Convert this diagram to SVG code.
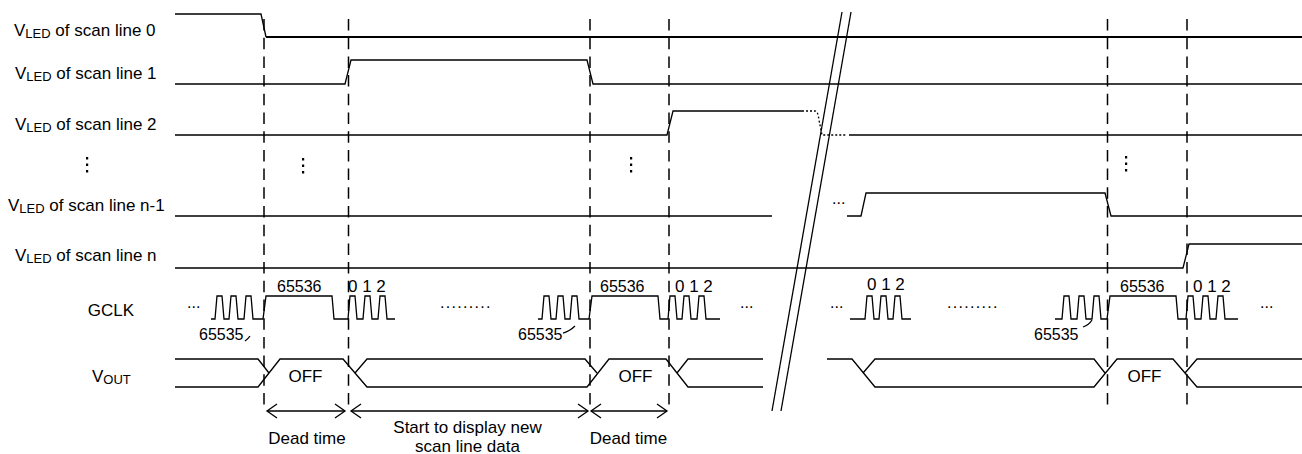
<svg xmlns="http://www.w3.org/2000/svg" width="1302" height="454" viewBox="0 0 1302 454">
<style>
text{font-family:"Liberation Sans",Arial,sans-serif;fill:#000}
.lbl{font-size:17px}
.sub{font-size:13px}
.num{font-size:16px}
.w{fill:none;stroke:#000;stroke-width:1.3;stroke-linejoin:miter}
.thick{fill:none;stroke:#000;stroke-width:2.2}
.dash{fill:none;stroke:#000;stroke-width:1.5;stroke-dasharray:11.5 7.2}
.dot{fill:none;stroke:#000;stroke-width:1.3;stroke-dasharray:2 2}
.arr{fill:none;stroke:#000;stroke-width:1.3;marker-start:url(#ah);marker-end:url(#ah)}
</style>
<defs>
<marker id="ah" markerUnits="userSpaceOnUse" markerWidth="20" markerHeight="20" refX="0" refY="0" orient="auto-start-reverse" overflow="visible">
<path d="M-10,-7 L0,0 L-10,7" fill="none" stroke="#000" stroke-width="1.3"/>
</marker>
</defs>
<rect width="1302" height="454" fill="#fff"/>

<g id="labels">
<text class="lbl" x="14" y="36">V<tspan class="sub" dy="2">LED</tspan><tspan dy="-2"> of scan line 0</tspan></text>
<text class="lbl" x="15" y="79">V<tspan class="sub" dy="2">LED</tspan><tspan dy="-2"> of scan line 1</tspan></text>
<text class="lbl" x="15" y="130">V<tspan class="sub" dy="2">LED</tspan><tspan dy="-2"> of scan line 2</tspan></text>
<text class="lbl" x="8" y="211">V<tspan class="sub" dy="2">LED</tspan><tspan dy="-2"> of scan line n-1</tspan></text>
<text class="lbl" x="15" y="261">V<tspan class="sub" dy="2">LED</tspan><tspan dy="-2"> of scan line n</tspan></text>
<text class="lbl" x="111" y="316" text-anchor="middle">GCLK</text>
<text class="lbl" x="92" y="382">V<tspan class="sub" dy="2">OUT</tspan></text>
</g>

<g id="vdots" fill="#000">
<rect x="86" y="157" width="2.2" height="2.5"/><rect x="86" y="163.5" width="2.2" height="2.5"/><rect x="86" y="170" width="2.2" height="2.5"/>
<rect x="302" y="158" width="2.2" height="2.5"/><rect x="302" y="164.5" width="2.2" height="2.5"/><rect x="302" y="171" width="2.2" height="2.5"/>
<rect x="630" y="157" width="2.2" height="2.5"/><rect x="630" y="163.5" width="2.2" height="2.5"/><rect x="630" y="170" width="2.2" height="2.5"/>
<rect x="1125" y="156" width="2.2" height="2.5"/><rect x="1125" y="162.5" width="2.2" height="2.5"/><rect x="1125" y="169" width="2.2" height="2.5"/>
</g>

<g id="dashed-markers">
<line class="dash" x1="264" y1="19" x2="264" y2="408"/>
<line class="dash" x1="348.5" y1="19" x2="348.5" y2="408"/>
<line class="dash" x1="590" y1="19" x2="590" y2="408"/>
<line class="dash" x1="669" y1="19" x2="669" y2="408"/>
<line class="dash" x1="1107.5" y1="19" x2="1107.5" y2="405"/>
<line class="dash" x1="1187" y1="19" x2="1187" y2="405"/>
</g>

<g id="scan0">
<path class="w" d="M175,14 H261 L266,37"/>
<path class="thick" d="M266,37 H1302"/>
</g>
<g id="scan1">
<path class="w" d="M175,84 H345 L351,60 H587 L593,84 H1302"/>
</g>
<g id="scan2">
<path class="w" d="M175,135 H667 L673,111 H802"/>
<path class="dot" d="M802,111 H815 Q818,111 819,120 L822,135 H847"/>
<path class="w" d="M849,135 H1302"/>
</g>
<g id="scan-n-1">
<path class="w" d="M175,216 H772"/>
<text class="num" x="832" y="204">...</text>
<path class="w" d="M847,216 H861 L866,193 H1105 L1111,216 H1302"/>
</g>
<g id="scan-n">
<path class="w" d="M175,268 H1183 L1189,244 H1302"/>
</g>

<g id="gclk">
<text class="num" x="187" y="308">...</text>
<path class="w" d="M211,319 H215 L217,296 H222 L224,319 H229 L231,296 H236 L238,319 H244 L246,296 H251 L253,319 H263 L266,296 H332 L334,319 H348 L350,296 H355 L357,319 H363 L365,296 H370 L372,319 H378 L380,296 H385 L387,319 H395"/>
<text class="num" x="199" y="340">65535</text>
<path class="w" d="M245,341 Q248,339 250,336"/>
<text class="num" x="277" y="292">65536</text>
<text class="lbl" x="348" y="292">0 1 2</text>
<text class="num" x="440" y="308" letter-spacing="1.3">.........</text>
<path class="w" d="M538,319 H542 L544,296 H549 L551,319 H556 L558,296 H563 L565,319 H570 L572,296 H577 L579,319 H589 L592,296 H658 L660,319 H668 L670,296 H675 L677,319 H682 L684,296 H689 L691,319 H697 L699,296 H704 L706,319 H720"/>
<text class="num" x="518" y="340">65535</text>
<path class="w" d="M563,333 Q570,331 575,326"/>
<text class="num" x="600" y="292">65536</text>
<text class="lbl" x="675" y="292">0 1 2</text>
<text class="num" x="740" y="308">...</text>
<text class="num" x="830" y="308">...</text>
<path class="w" d="M850,319 H865 L867,296 H872 L874,319 H879 L881,296 H886 L888,319 H893 L895,296 H900 L902,319 H911"/>
<text class="lbl" x="867" y="290">0 1 2</text>
<text class="num" x="947" y="308" letter-spacing="1.3">.........</text>
<path class="w" d="M1055,319 H1062 L1064,296 H1069 L1071,319 H1077 L1079,296 H1084 L1086,319 H1092 L1094,296 H1099 L1101,319 H1107 L1110,296 H1176 L1178,319 H1186 L1188,296 H1193 L1195,319 H1201 L1203,296 H1208 L1210,319 H1216 L1218,296 H1223 L1225,319 H1238"/>
<text class="num" x="1034" y="340">65535</text>
<path class="w" d="M1083,327 Q1089,325 1092,320"/>
<text class="num" x="1120" y="292">65536</text>
<text class="lbl" x="1193" y="292">0 1 2</text>
<text class="num" x="1260" y="308">...</text>
</g>

<g id="vout">
<path class="w" d="M175,387 H258 L280,359 H343 L367,387 H587 L609,359 H666 L688,387 H763"/>
<path class="w" d="M175,359 H258 L269,373"/>
<path class="w" d="M355,373 L367,359 H585 L597,373"/>
<path class="w" d="M677,373 L688,359 H763"/>
<path class="w" d="M827,359 H852 L875,387 H1094 L1117,359 H1173 L1197,387 H1302"/>
<path class="w" d="M863,373 L875,359 H1094 L1105,373"/>
<path class="w" d="M1185,373 L1197,359 H1302"/>
<text class="lbl" x="305.5" y="382" text-anchor="middle">OFF</text>
<text class="lbl" x="635.5" y="382" text-anchor="middle">OFF</text>
<text class="lbl" x="1144.5" y="382" text-anchor="middle">OFF</text>
</g>

<g id="break">
<line class="w" x1="842" y1="12" x2="772" y2="411"/>
<line class="w" x1="851" y1="12" x2="781" y2="411"/>
</g>

<g id="connectors">
<line class="arr" x1="267" y1="411" x2="345" y2="411"/>
<line class="arr" x1="351" y1="411" x2="588" y2="411"/>
<line class="arr" x1="591" y1="411" x2="667" y2="411"/>
</g>

<g id="annotations">
<text class="lbl" x="307" y="444" text-anchor="middle">Dead time</text>
<text class="lbl" x="467.5" y="433" text-anchor="middle">Start to display new</text>
<text class="lbl" x="467.5" y="452" text-anchor="middle">scan line data</text>
<text class="lbl" x="628.5" y="444" text-anchor="middle">Dead time</text>
</g>
</svg>
